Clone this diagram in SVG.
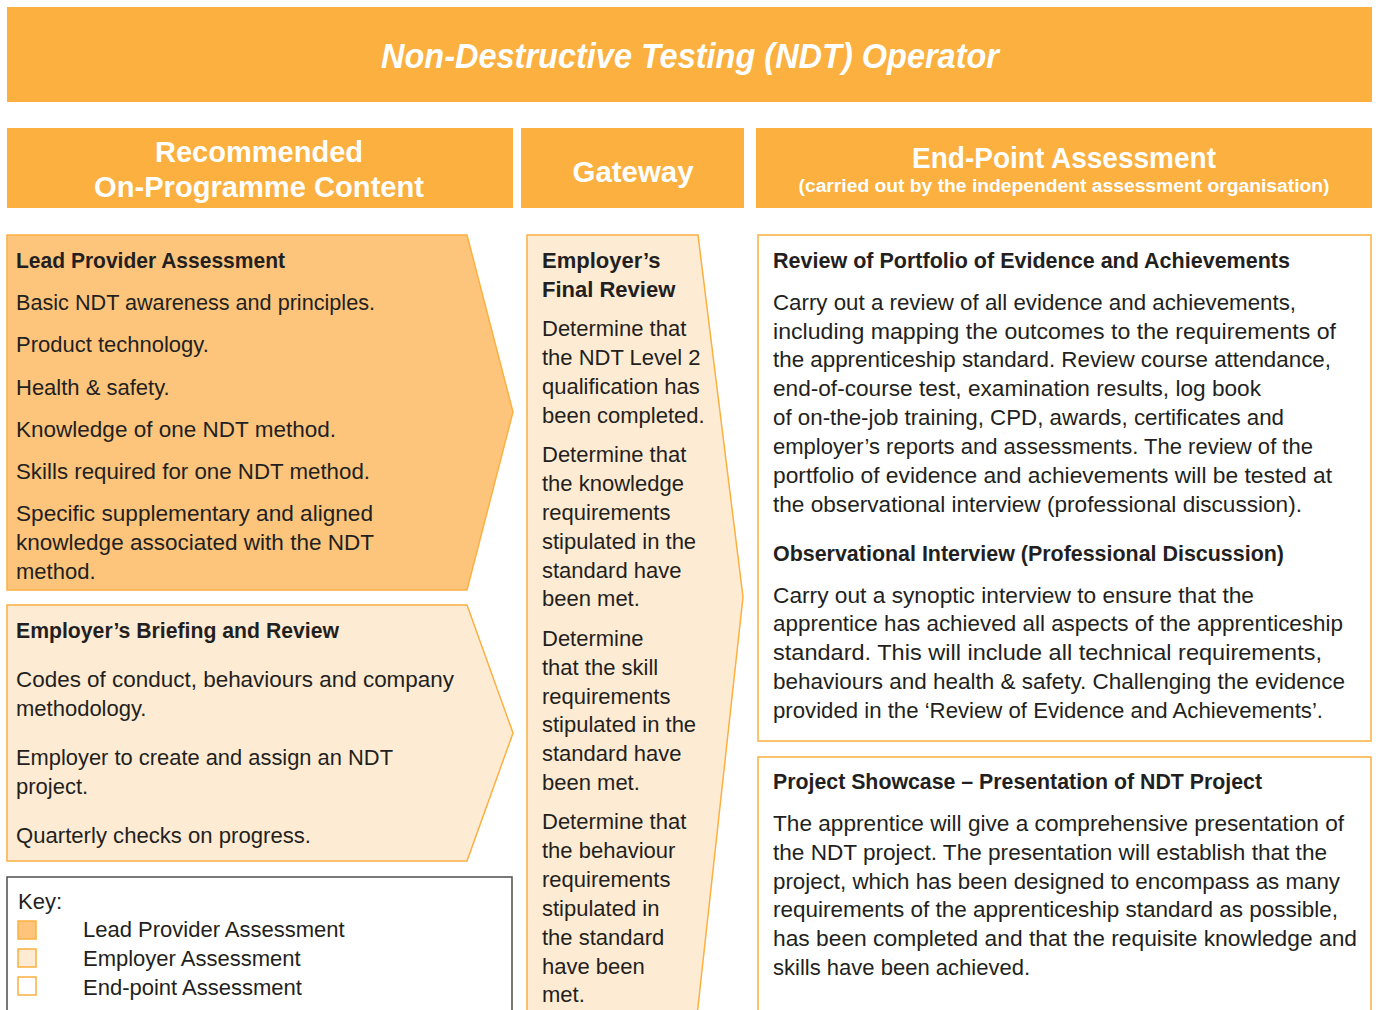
<svg xmlns="http://www.w3.org/2000/svg" width="1376" height="1010" viewBox="0 0 1376 1010">
<style>
.hdr{fill:#FBB040}
.ht{fill:#fff;font-family:"Liberation Sans",Arial,sans-serif;font-weight:bold;text-anchor:middle}
.lead{fill:#FDC57C;stroke:#FBB040;stroke-width:1.5}
.emp{fill:#FEEBD3;stroke:#FBB040;stroke-width:1.5}
.epa{fill:#fff;stroke:#FBB040;stroke-width:1.5}
.t{fill:#231F20;font-family:"Liberation Sans",Arial,sans-serif;font-size:22px}
.b{font-weight:bold}
</style>
<rect width="1376" height="1010" fill="#fff"/>
<g id="title">
<rect class="hdr" x="7" y="7" width="1365" height="95"/>
<text class="ht" x="690" y="68" font-size="35" font-style="italic" textLength="618" lengthAdjust="spacingAndGlyphs">Non-Destructive Testing (NDT) Operator</text>
</g>
<g id="header-onprog">
<rect class="hdr" x="7" y="128" width="506" height="80"/>
<text class="ht" x="259" y="162" font-size="29" textLength="208" lengthAdjust="spacingAndGlyphs">Recommended</text>
<text class="ht" x="259" y="197" font-size="29" textLength="330" lengthAdjust="spacingAndGlyphs">On-Programme Content</text>
</g>
<g id="header-gateway">
<rect class="hdr" x="521" y="128" width="223" height="80"/>
<text class="ht" x="633" y="182" font-size="29" textLength="121" lengthAdjust="spacingAndGlyphs">Gateway</text>
</g>
<g id="header-epa">
<rect class="hdr" x="756" y="128" width="616" height="80"/>
<text class="ht" x="1064" y="168" font-size="29" textLength="304" lengthAdjust="spacingAndGlyphs">End-Point Assessment</text>
<text class="ht" x="1064" y="192" font-size="18" textLength="531" lengthAdjust="spacingAndGlyphs">(carried out by the independent assessment organisation)</text>
</g>
<g id="lead-provider">
<polygon class="lead" points="7,235 467,235 513,412 467,590 7,590"/>
<text class="t b" x="16" y="268" textLength="269" lengthAdjust="spacingAndGlyphs">Lead Provider Assessment</text>
<text class="t" x="16" y="310" textLength="359" lengthAdjust="spacingAndGlyphs">Basic NDT awareness and principles.</text>
<text class="t" x="16" y="352">Product technology.</text>
<text class="t" x="16" y="395">Health &amp; safety.</text>
<text class="t" x="16" y="437" textLength="320" lengthAdjust="spacingAndGlyphs">Knowledge of one NDT method.</text>
<text class="t" x="16" y="479" textLength="354" lengthAdjust="spacingAndGlyphs">Skills required for one NDT method.</text>
<text class="t" x="16" y="521" textLength="357" lengthAdjust="spacingAndGlyphs">Specific supplementary and aligned</text>
<text class="t" x="16" y="550" textLength="358" lengthAdjust="spacingAndGlyphs">knowledge associated with the NDT</text>
<text class="t" x="16" y="579">method.</text>
</g>
<g id="employer-briefing">
<polygon class="emp" points="7,605 467,605 513,733 467,861 7,861"/>
<text class="t b" x="16" y="638" textLength="323" lengthAdjust="spacingAndGlyphs">Employer’s Briefing and Review</text>
<text class="t" x="16" y="687" textLength="438" lengthAdjust="spacingAndGlyphs">Codes of conduct, behaviours and company</text>
<text class="t" x="16" y="716">methodology.</text>
<text class="t" x="16" y="765" textLength="377" lengthAdjust="spacingAndGlyphs">Employer to create and assign an NDT</text>
<text class="t" x="16" y="794">project.</text>
<text class="t" x="16" y="843" textLength="295" lengthAdjust="spacingAndGlyphs">Quarterly checks on progress.</text>
</g>
<g id="key">
<rect x="7" y="877" width="505" height="140" fill="#fff" stroke="#4D4D4D" stroke-width="1.5"/>
<text class="t" x="18" y="909">Key:</text>
<rect class="lead" x="18" y="921" width="18" height="18"/>
<rect class="emp" x="18" y="949" width="18" height="18"/>
<rect class="epa" x="18" y="977" width="18" height="18"/>
<text class="t" x="83" y="937">Lead Provider Assessment</text>
<text class="t" x="83" y="966">Employer Assessment</text>
<text class="t" x="83" y="995">End-point Assessment</text>
</g>
<g id="gateway">
<polygon class="emp" points="527,235 698,235 743,597 697,1016 527,1016"/>
<text class="t b" x="542" y="268">Employer’s</text>
<text class="t b" x="542" y="297">Final Review</text>
<text class="t" x="542" y="336">Determine that</text>
<text class="t" x="542" y="365">the NDT Level 2</text>
<text class="t" x="542" y="394">qualification has</text>
<text class="t" x="542" y="423">been completed.</text>
<text class="t" x="542" y="462">Determine that</text>
<text class="t" x="542" y="491">the knowledge</text>
<text class="t" x="542" y="520">requirements</text>
<text class="t" x="542" y="549">stipulated in the</text>
<text class="t" x="542" y="578">standard have</text>
<text class="t" x="542" y="606">been met.</text>
<text class="t" x="542" y="646">Determine</text>
<text class="t" x="542" y="675">that the skill</text>
<text class="t" x="542" y="704">requirements</text>
<text class="t" x="542" y="732">stipulated in the</text>
<text class="t" x="542" y="761">standard have</text>
<text class="t" x="542" y="790">been met.</text>
<text class="t" x="542" y="829">Determine that</text>
<text class="t" x="542" y="858">the behaviour</text>
<text class="t" x="542" y="887">requirements</text>
<text class="t" x="542" y="916">stipulated in</text>
<text class="t" x="542" y="945">the standard</text>
<text class="t" x="542" y="974">have been</text>
<text class="t" x="542" y="1002">met.</text>
</g>
<g id="portfolio-interview">
<rect class="epa" x="758" y="235" width="613" height="506"/>
<text class="t b" x="773" y="268" textLength="517" lengthAdjust="spacingAndGlyphs">Review of Portfolio of Evidence and Achievements</text>
<text class="t" x="773" y="310" textLength="523" lengthAdjust="spacingAndGlyphs">Carry out a review of all evidence and achievements,</text>
<text class="t" x="773" y="339" textLength="563" lengthAdjust="spacingAndGlyphs">including mapping the outcomes to the requirements of</text>
<text class="t" x="773" y="367" textLength="558" lengthAdjust="spacingAndGlyphs">the apprenticeship standard. Review course attendance,</text>
<text class="t" x="773" y="396" textLength="488" lengthAdjust="spacingAndGlyphs">end-of-course test, examination results, log book</text>
<text class="t" x="773" y="425" textLength="511" lengthAdjust="spacingAndGlyphs">of on-the-job training, CPD, awards, certificates and</text>
<text class="t" x="773" y="454" textLength="540" lengthAdjust="spacingAndGlyphs">employer’s reports and assessments. The review of the</text>
<text class="t" x="773" y="483" textLength="559" lengthAdjust="spacingAndGlyphs">portfolio of evidence and achievements will be tested at</text>
<text class="t" x="773" y="512" textLength="529" lengthAdjust="spacingAndGlyphs">the observational interview (professional discussion).</text>
<text class="t b" x="773" y="561" textLength="511" lengthAdjust="spacingAndGlyphs">Observational Interview (Professional Discussion)</text>
<text class="t" x="773" y="603" textLength="481" lengthAdjust="spacingAndGlyphs">Carry out a synoptic interview to ensure that the</text>
<text class="t" x="773" y="631" textLength="570" lengthAdjust="spacingAndGlyphs">apprentice has achieved all aspects of the apprenticeship</text>
<text class="t" x="773" y="660" textLength="549" lengthAdjust="spacingAndGlyphs">standard. This will include all technical requirements,</text>
<text class="t" x="773" y="689" textLength="572" lengthAdjust="spacingAndGlyphs">behaviours and health &amp; safety. Challenging the evidence</text>
<text class="t" x="773" y="718" textLength="550" lengthAdjust="spacingAndGlyphs">provided in the ‘Review of Evidence and Achievements’.</text>
</g>
<g id="project-showcase">
<rect class="epa" x="758" y="757" width="613" height="260"/>
<text class="t b" x="773" y="789" textLength="489" lengthAdjust="spacingAndGlyphs">Project Showcase – Presentation of NDT Project</text>
<text class="t" x="773" y="831" textLength="571" lengthAdjust="spacingAndGlyphs">The apprentice will give a comprehensive presentation of</text>
<text class="t" x="773" y="860" textLength="554" lengthAdjust="spacingAndGlyphs">the NDT project. The presentation will establish that the</text>
<text class="t" x="773" y="889" textLength="567" lengthAdjust="spacingAndGlyphs">project, which has been designed to encompass as many</text>
<text class="t" x="773" y="917" textLength="565" lengthAdjust="spacingAndGlyphs">requirements of the apprenticeship standard as possible,</text>
<text class="t" x="773" y="946" textLength="584" lengthAdjust="spacingAndGlyphs">has been completed and that the requisite knowledge and</text>
<text class="t" x="773" y="975" textLength="257" lengthAdjust="spacingAndGlyphs">skills have been achieved.</text>
</g>
<g id="connectors"></g>
</svg>
